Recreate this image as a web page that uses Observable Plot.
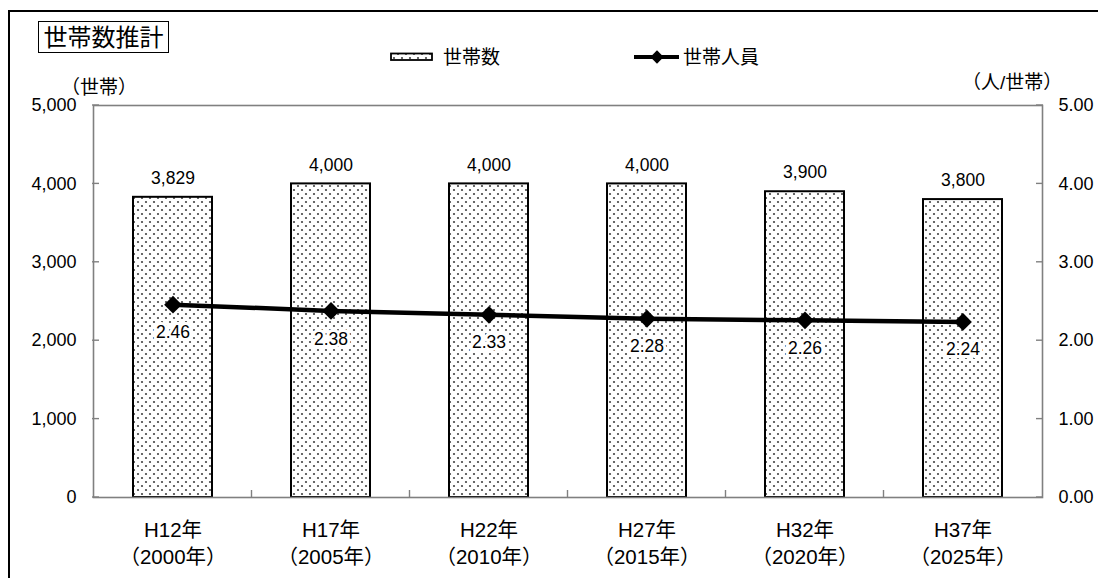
<!DOCTYPE html>
<html>
<head>
<meta charset="utf-8">
<script src="https://cdn.jsdelivr.net/npm/d3@7"></script>
<script src="https://cdn.jsdelivr.net/npm/@observablehq/plot@0.6"></script>
<style>
  html, body { margin: 0; padding: 0; background: #fff; }
  #chart { width: 1098px; height: 578px; overflow: hidden; }
</style>
</head>
<body>
<div id="chart"></div>
<script>
// ---- data ----
const yearKeys   = ["2000", "2005", "2010", "2015", "2020", "2025"];
const eraLabels  = ["H12年", "H17年", "H22年", "H27年", "H32年", "H37年"];
const yearLabels = ["（2000年）", "（2005年）", "（2010年）", "（2015年）", "（2020年）", "（2025年）"];
const households = [3829, 4000, 4000, 4000, 3900, 3800];          // 世帯数
const personsPerHousehold = [2.46, 2.38, 2.33, 2.28, 2.26, 2.24]; // 世帯人員
const leftTicks  = [0, 1000, 2000, 3000, 4000, 5000];
const rightTickLabels = ["0.00", "1.00", "2.00", "3.00", "4.00", "5.00"];
const titleText = "世帯数推計";
const seriesNames = ["世帯数", "世帯人員"];
const leftUnit = "（世帯）";
const rightUnit = "（人/世帯）";

const RIGHT_FACTOR = 1000; // right axis 0..5 mapped onto left 0..5000

const table = yearKeys.map((k, i) => ({
  key: k,
  era: eraLabels[i],
  year: yearLabels[i],
  hh: households[i],
  pp: personsPerHousehold[i],
  ppScaled: personsPerHousehold[i] * RIGHT_FACTOR
}));
const labelOf = Object.fromEntries(table.map(d => [d.key, d.era + "\n" + d.year]));

const FONT = "'Liberation Sans','Noto Sans CJK JP',sans-serif";

const plot = Plot.plot({
  width: 1098,
  height: 578,
  marginLeft: 93,
  marginRight: 56,
  marginTop: 105,
  marginBottom: 81,
  style: { fontFamily: FONT, background: "#fff", color: "#000" },
  x: { type: "band", domain: yearKeys, paddingInner: 0.5, paddingOuter: 0.25 },
  y: { domain: [0, 5000] },
  marks: [
    Plot.barY(table, { x: "key", y: "hh", fill: "url(#dots)", stroke: "#000", strokeWidth: 2 }),
    Plot.frame({ stroke: "#808080", strokeWidth: 1.6 }),
    Plot.axisY(leftTicks, { anchor: "left", tickSize: 0, tickPadding: 17, fontSize: 18, tickFormat: d3.format(","), label: null }),
    Plot.axisY(leftTicks, { anchor: "right", tickSize: 0, tickPadding: 16, fontSize: 18,
      tickFormat: d => rightTickLabels[leftTicks.indexOf(d)], label: null }),
    Plot.axisX({ anchor: "bottom", tickSize: 0, tickPadding: 20, fontSize: 20.5, lineHeight: 1.33,
      tickFormat: k => labelOf[k], label: null }),
    Plot.text(table, { x: "key", y: "hh", text: d => d3.format(",")(d.hh), dy: -19, fontSize: 17.5, fill: "#000" }),
    Plot.line(table, { x: "key", y: "ppScaled", stroke: "#000", strokeWidth: 4.5 }),
    Plot.dot(table, { x: "key", y: "ppScaled", symbol: "diamond2", r: 8, fill: "#000", stroke: "none" }),
    Plot.text(table, { x: "key", y: "ppScaled", text: d => d.pp.toFixed(2), dy: 28, fontSize: 17.5,
      fill: "#000", stroke: "#fff", strokeWidth: 6, strokeLinejoin: "miter" })
  ]
});

document.getElementById("chart").appendChild(plot);

const svg = d3.select(plot);
// dotted fill pattern
const defs = svg.insert("defs", ":first-child");
const pat = defs.append("pattern").attr("id", "dots").attr("patternUnits", "userSpaceOnUse")
  .attr("width", 8).attr("height", 8);
pat.append("rect").attr("width", 8).attr("height", 8).attr("fill", "#fff");
pat.append("circle").attr("cx", 2).attr("cy", 2).attr("r", 1.1).attr("fill", "#444");
pat.append("circle").attr("cx", 6).attr("cy", 6).attr("r", 1.1).attr("fill", "#444");

const xs = plot.scale("x");
const ys = plot.scale("y");
const xLeft = xs.range[0], xRight = xs.range[1];
const yBottom = ys.apply(0);

// inward ticks on both y axes
const g = svg.append("g").attr("stroke", "#808080").attr("stroke-width", 1.4);
leftTicks.forEach(v => {
  const y = ys.apply(v);
  g.append("line").attr("x1", xLeft - 1).attr("x2", xLeft + 6).attr("y1", y).attr("y2", y);
  g.append("line").attr("x1", xRight - 6).attr("x2", xRight + 1).attr("y1", y).attr("y2", y);
});
// category boundary ticks on x axis
table.slice(1).forEach(d => {
  const x = xs.apply(d.key) - (xs.step - xs.bandwidth) / 2;
  g.append("line").attr("x1", x).attr("x2", x).attr("y1", yBottom).attr("y2", yBottom - 7);
});

// outer frame (left and top edges of the figure box)
svg.append("path").attr("d", "M9,578V11H1098").attr("fill", "none").attr("stroke", "#000").attr("stroke-width", 2);

// title box
svg.append("rect").attr("x", 38.5).attr("y", 21.5).attr("width", 130).attr("height", 31)
  .attr("fill", "#fff").attr("stroke", "#000").attr("stroke-width", 1);
svg.append("text").attr("x", 103.5).attr("y", 37).attr("text-anchor", "middle").attr("dominant-baseline", "central")
  .attr("font-size", 24).attr("font-family", FONT).text(titleText);

// legend
const lg = svg.append("g").attr("font-family", FONT).attr("font-size", 19).attr("text-anchor", "start");
lg.append("rect").attr("x", 391).attr("y", 53.5).attr("width", 41).attr("height", 6.5)
  .attr("fill", "url(#dots)").attr("stroke", "#000").attr("stroke-width", 1.8);
lg.append("text").attr("x", 443).attr("y", 57).attr("dominant-baseline", "central").text(seriesNames[0]);
lg.append("line").attr("x1", 634).attr("x2", 679).attr("y1", 57).attr("y2", 57).attr("stroke", "#000").attr("stroke-width", 4);
lg.append("path").attr("d", d3.symbol(d3.symbolDiamond2, Math.PI * 36)()).attr("transform", "translate(657,57)").attr("fill", "#000");
lg.append("text").attr("x", 683).attr("y", 57).attr("dominant-baseline", "central").text(seriesNames[1]);

// unit labels
svg.append("text").attr("x", 61).attr("y", 87).attr("text-anchor", "start").attr("dominant-baseline", "central")
  .attr("font-size", 19).attr("font-family", FONT).text(leftUnit);
svg.append("text").attr("x", 962).attr("y", 82).attr("text-anchor", "start").attr("dominant-baseline", "central")
  .attr("font-size", 19).attr("font-family", FONT).text(rightUnit);
</script>
</body>
</html>
